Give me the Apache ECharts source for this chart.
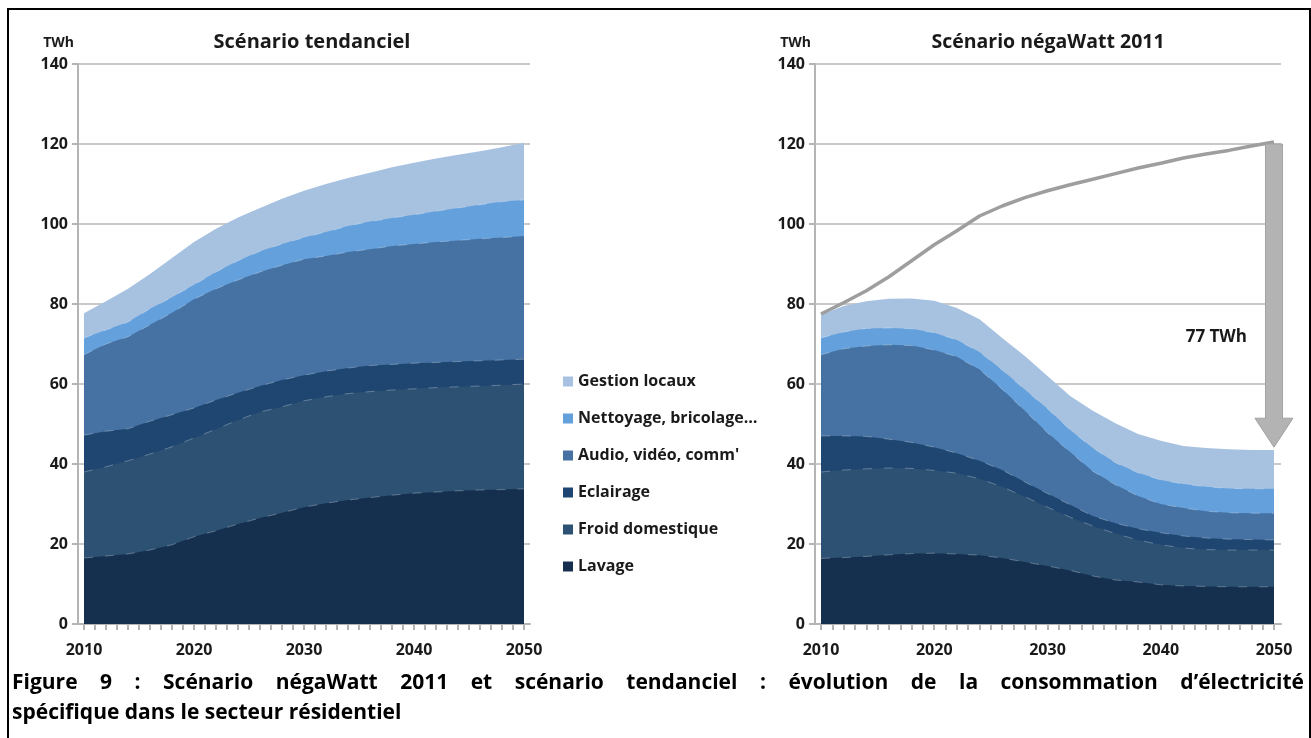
<!DOCTYPE html>
<html><head><meta charset="utf-8">
<script src="https://cdn.jsdelivr.net/npm/echarts@6/dist/echarts.min.js"></script>
<style>html,body{margin:0;padding:0;background:#fff}#c{width:1311px;height:738px}</style>
</head><body><div id="c"></div>
<script>
// ---------- DATA ----------
const years = [2010, 2012, 2014, 2016, 2018, 2020, 2022, 2024, 2026, 2028, 2030,
               2032, 2034, 2036, 2038, 2040, 2042, 2044, 2046, 2048, 2050];
const categories = ['Lavage', 'Froid domestique', 'Eclairage', "Audio, vidéo, comm'", 'Nettoyage, bricolage…', 'Gestion locaux'];
const legendOrder = ['Gestion locaux', 'Nettoyage, bricolage…', "Audio, vidéo, comm'", 'Eclairage', 'Froid domestique', 'Lavage'];
const xTickLabels = [2010, 2020, 2030, 2040, 2050];
const yTickLabels = [0, 20, 40, 60, 80, 100, 120, 140];

// Scénario tendanciel (TWh per use)
const tendLavage    = [16.5,17.0,17.5,18.5,19.8,21.8,23.3,25.0,26.5,27.8,29.2,30.2,31.0,31.6,32.2,32.7,33.0,33.3,33.5,33.6,33.8];
const tendFroid     = [21.5,22.3,23.3,24.0,24.5,24.7,25.4,26.0,26.5,26.5,26.6,26.6,26.6,26.5,26.3,26.1,26.1,26.0,26.0,26.1,26.2];
const tendEclairage = [9.2,8.9,8.0,8.2,8.0,7.5,7.3,6.8,6.5,6.7,6.4,6.4,6.4,6.5,6.4,6.4,6.3,6.3,6.3,6.3,6.2];
const tendAudio     = [20.1,21.8,23.0,24.1,25.5,27.2,27.8,28.2,28.5,28.7,29.0,28.8,29.0,29.1,29.6,29.8,30.1,30.3,30.5,30.6,30.8];
const tendNettoyage = [4.2,3.5,3.7,4.0,3.9,3.6,4.2,4.8,5.2,5.3,5.4,6.0,6.5,6.9,7.0,7.3,7.7,8.1,8.5,9.0,9.0];
const tendGestion   = [6.2,7.2,8.3,8.7,9.8,10.7,10.8,10.8,10.8,11.3,11.7,12.0,12.0,12.2,12.7,13.0,13.2,13.3,13.4,13.6,14.3];

// Scénario négaWatt 2011 (TWh per use)
const nwLavage    = [16.4,16.6,16.9,17.3,17.6,17.7,17.5,17.2,16.5,15.5,14.5,13.4,12.0,11.0,10.5,9.8,9.5,9.4,9.3,9.3,9.3];
const nwFroid     = [21.6,21.9,21.9,21.7,21.3,20.7,20.2,19.1,17.8,16.3,14.7,13.3,12.5,11.6,10.5,10.0,9.5,9.2,9.2,9.2,9.2];
const nwEclairage = [9.0,8.5,8.1,7.2,6.5,5.8,5.0,4.5,4.2,3.7,3.4,3.1,2.5,2.6,2.8,3.0,3.0,2.9,2.7,2.6,2.5];
const nwAudio     = [20.3,21.8,22.6,23.6,24.2,24.3,24.1,22.8,20.2,17.8,15.2,13.2,11.2,9.6,8.2,7.2,7.0,6.7,6.6,6.6,6.7];
const nwNettoyage = [4.2,4.2,4.4,4.2,4.2,4.3,4.2,4.4,4.8,5.3,6.0,5.5,5.8,5.5,5.8,6.0,6.0,6.1,6.1,6.1,6.1];
const nwGestion   = [5.8,6.5,6.8,7.3,7.6,8.0,8.0,8.2,8.0,8.4,8.2,8.5,9.3,9.9,9.7,9.8,9.5,9.7,9.8,9.7,9.7];

// Total of the tendanciel scenario (grey line on the right chart)
const tendTotal = [77.5,80.3,83.3,86.8,90.8,94.8,98.3,102.0,104.5,106.6,108.3,109.8,111.2,112.6,114.0,115.2,116.5,117.5,118.4,119.5,120.5];
// Arrow annotation: year, from, to ; label
const arrowSpec = [2050, 120, 44.2];
const arrowLabel = '77 TWh';

// ---------- STYLE ----------
const FONT = '"Open Sans", "DejaVu Sans", sans-serif';
const colors = ['#15304f', '#2d5173', '#1e4670', '#4572a3', '#63a0dc', '#a7c2e1'];
const gridCol = '#c9c9c9', axisCol = '#b4b4b4', txt = '#1a1a1a';

const tendSets = [tendLavage, tendFroid, tendEclairage, tendAudio, tendNettoyage, tendGestion];
const nwSets = [nwLavage, nwFroid, nwEclairage, nwAudio, nwNettoyage, nwGestion];
const allYears = [];
for (let y = 2010; y <= 2050; y++) allYears.push(y);

// stacked (cumulative) tops, built from the per-use arrays
function cumulative(sets) {
  const out = [];
  let acc = years.map(() => 0);
  sets.forEach(s => { acc = acc.map((a, k) => Math.round((a + s[k]) * 100) / 100); out.push(acc); });
  return out;
}

function areaSeries(sets, idx) {
  const cum = cumulative(sets);
  const list = [];
  for (let i = sets.length - 1; i >= 0; i--) {   // top layer first, lower layers drawn over it
    list.push({
      type: 'line', name: categories[i], xAxisIndex: idx, yAxisIndex: idx,
      data: years.map((y, k) => [y, cum[i][k]]),
      symbol: 'none', smooth: false, z: 2,
      itemStyle: { color: colors[i] },
      lineStyle: i < 5 ? { width: 1, color: 'rgba(255,255,255,0.28)', type: [9, 12] } : { width: 0 },
      areaStyle: { color: colors[i], opacity: 1, origin: 'start' },
      emphasis: { disabled: true }, silent: true
    });
  }
  return list;
}

function xAxis(idx, min, max) {
  return {
    type: 'value', gridIndex: idx, min: min, max: max,
    axisLine: { show: true, lineStyle: { color: axisCol, width: 2 } },
    axisTick: { show: true, customValues: allYears, length: 6, lineStyle: { color: axisCol, width: 2 } },
    axisLabel: { customValues: xTickLabels, formatter: v => String(Math.round(v)), margin: 18,
      color: txt, fontFamily: FONT, fontWeight: 'bold', fontSize: 16 },
    splitLine: { show: false }
  };
}
function yAxis(idx) {
  return {
    type: 'value', gridIndex: idx, min: 0, max: 140, interval: 20,
    name: 'TWh', nameLocation: 'end', nameGap: 14,
    nameTextStyle: { color: txt, fontFamily: FONT, fontWeight: 'bold', fontSize: 14, align: 'right', padding: [0, 4, 0, 0] },
    axisLine: { show: true, lineStyle: { color: axisCol, width: 2 } },
    axisTick: { show: true, length: 6, lineStyle: { color: axisCol, width: 2 } },
    axisLabel: { margin: 10, color: txt, fontFamily: FONT, fontWeight: 'bold', fontSize: 16,
      formatter: v => yTickLabels.indexOf(v) >= 0 ? String(v) : '' },
    splitLine: { show: true, lineStyle: { color: gridCol, width: 2 } }
  };
}

// justified caption line
const ctx = document.createElement('canvas').getContext('2d');
function justifiedLine(text, x0, x1, y, font) {
  ctx.font = font;
  const words = text.split(' ');
  const w = words.map(s => ctx.measureText(s).width);
  const total = w.reduce((a, b) => a + b, 0);
  const gap = (x1 - x0 - total) / (words.length - 1);
  let x = x0; const out = [];
  words.forEach((s, i) => {
    out.push({ type: 'text', x: x, y: y, silent: true, style: { text: s, font: font, fill: '#000', verticalAlign: 'middle' } });
    x += w[i] + gap;
  });
  return out;
}
const capFont = 'bold 21px ' + FONT;
const caption1 = 'Figure 9 : Scénario négaWatt 2011 et scénario tendanciel : évolution de la consommation d’électricité';
const caption2 = 'spécifique dans le secteur résidentiel';

const chart = echarts.init(document.getElementById('c'), null, { renderer: 'canvas' });
const option = {
  backgroundColor: '#fff',
  animation: false,
  grid: [
    { left: 78, top: 64, width: 452, height: 560 },
    { left: 815, top: 64, width: 466, height: 560 }
  ],
  xAxis: [xAxis(0, 2009.455, 2050.545), xAxis(1, 2009.47, 2050.62)],
  yAxis: [yAxis(0), yAxis(1)],
  legend: {
    data: legendOrder, orient: 'vertical', left: 558, top: 366, itemGap: 16,
    itemWidth: 10, itemHeight: 10, icon: 'rect', selectedMode: false,
    textStyle: { color: txt, fontFamily: FONT, fontWeight: 'bold', fontSize: 16, lineHeight: 21 }
  },
  series: [
    ...areaSeries(tendSets, 0),
    ...areaSeries(nwSets, 1),
    {
      type: 'line', name: 'Total tendanciel', xAxisIndex: 1, yAxisIndex: 1,
      data: years.map((y, k) => [y, tendTotal[k]]), symbol: 'none', z: 4,
      lineStyle: { color: '#9e9e9e', width: 3.5 }, itemStyle: { color: '#9e9e9e' }, silent: true
    },
    {
      type: 'custom', name: 'arrow', xAxisIndex: 1, yAxisIndex: 1, z: 5, silent: true, clip: false,
      data: [arrowSpec],
      renderItem: function (params, api) {
        const top = api.coord([api.value(0), api.value(1)]);
        const tip = api.coord([api.value(0), api.value(2)]);
        const sw = 8.5, hw = 19, hh = 29;
        const cx = top[0];
        const pts = [[cx - sw, top[1]], [cx + sw, top[1]], [cx + sw, tip[1] - hh], [cx + hw, tip[1] - hh],
                     [cx, tip[1]], [cx - hw, tip[1] - hh], [cx - sw, tip[1] - hh]];
        const lab = api.coord([api.value(0), 71.8]);
        return {
          type: 'group', children: [
            { type: 'polygon', shape: { points: pts }, style: { fill: '#b3b3b3', stroke: '#a2a2a2', lineWidth: 1 } },
            { type: 'text', x: cx - 27, y: lab[1], style: { text: arrowLabel, font: 'bold 17px ' + FONT, fill: txt, align: 'right', verticalAlign: 'middle' } }
          ]
        };
      }
    }
  ],
  graphic: [
    { type: 'rect', silent: true, shape: { x: 8, y: 9, width: 1302, height: 740 }, style: { fill: null, stroke: '#000', lineWidth: 2 } },
    { type: 'text', x: 312, y: 42, silent: true, style: { text: 'Scénario tendanciel', font: 'bold 20px ' + FONT, fill: txt, align: 'center', verticalAlign: 'middle' } },
    { type: 'text', x: 1048, y: 42, silent: true, style: { text: 'Scénario négaWatt 2011', font: 'bold 19.5px ' + FONT, fill: txt, align: 'center', verticalAlign: 'middle' } },
    ...justifiedLine(caption1, 12, 1304, 683, capFont),
    { type: 'text', x: 12, y: 713, silent: true, style: { text: caption2, font: capFont, fill: '#000', verticalAlign: 'middle' } }
  ]
};
chart.setOption(option);
</script></body></html>
